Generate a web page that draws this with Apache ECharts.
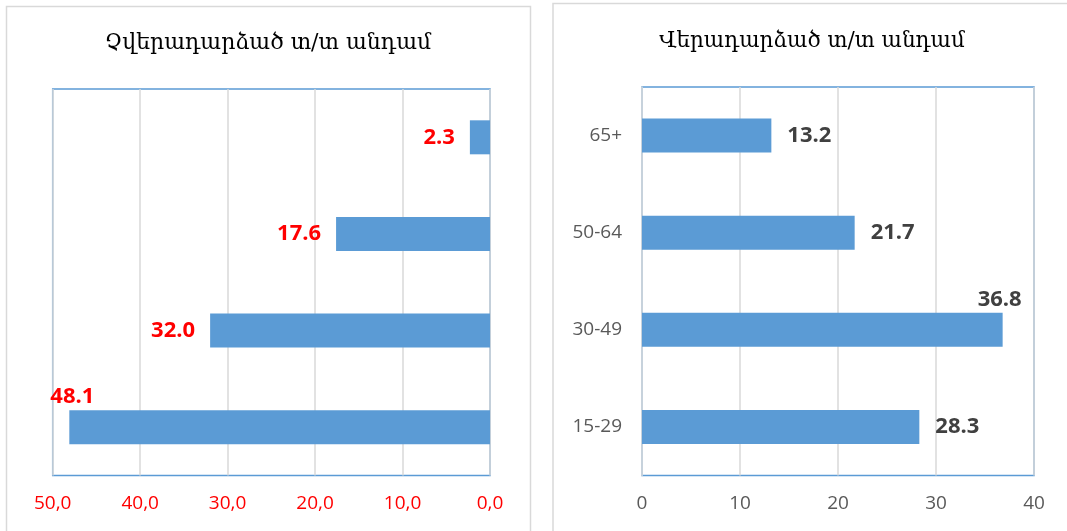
<!DOCTYPE html>
<html>
<head>
<meta charset="utf-8">
<script src="https://cdn.jsdelivr.net/npm/echarts@6/dist/echarts.min.js"></script>
<style>
html,body{margin:0;padding:0;background:#fff;}
#c{width:1067px;height:531px;}
</style>
</head>
<body>
<div id="c"></div>
<script>
// ---- data ----
var categories = ['15-29', '30-49', '50-64', '65+'];
var nonReturnedValues = [48.1, 32.0, 17.6, 2.3];   // Չվերադարձած
var returnedValues = [28.3, 36.8, 21.7, 13.2];     // Վերադարձած
var leftTitle = 'Չվերադարձած տ/տ անդամ';
var rightTitle = 'Վերադարձած տ/տ անդամ';

var BLUE = '#5B9BD5';
var numFont = "'Open Sans', 'Liberation Sans', sans-serif";
var titleFont = "'DejaVu Serif', 'DejaVu Sans', serif";

var chart = echarts.init(document.getElementById('c'), null, {renderer: 'canvas'});

function fmt1(v) { return Number(v).toFixed(1); }

var leftData = nonReturnedValues.map(function (v, i) {
  var d = {value: v};
  if (i === 0) {
    d.label = {position: 'insideLeft', offset: [-34, -30]};
  }
  return d;
});
var rightData = returnedValues.map(function (v, i) {
  var d = {value: v};
  if (i === 1) {
    d.label = {position: 'insideRight', offset: [35, -30]};
  }
  return d;
});

var option = {
  backgroundColor: '#ffffff',
  animation: false,
  graphic: [
    {type: 'rect', z: -10, shape: {x: 6.5, y: 6.5, width: 524, height: 540},
      style: {fill: '#fff', stroke: '#d9d9d9', lineWidth: 1.5}},
    {type: 'rect', z: -10, shape: {x: 553, y: 3.5, width: 540, height: 540},
      style: {fill: '#fff', stroke: '#d9d9d9', lineWidth: 1.5}},
    {type: 'text', z: 10, style: {text: leftTitle, x: 268, y: 43, textAlign: 'center',
      textVerticalAlign: 'middle', fill: '#000', font: "22px " + titleFont}},
    {type: 'text', z: 10, style: {text: rightTitle, x: 812, y: 41, textAlign: 'center',
      textVerticalAlign: 'middle', fill: '#000', font: "21.5px " + titleFont}}
  ],
  grid: [
    {left: 52.7, right: 577, top: 89, bottom: 55.5, show: true, borderColor: BLUE, borderWidth: 1.5, backgroundColor: '#fff'},
    {left: 642, right: 33, top: 87, bottom: 55.5, show: true, borderColor: BLUE, borderWidth: 1.5, backgroundColor: '#fff'}
  ],
  xAxis: [
    {type: 'value', gridIndex: 0, min: 0, max: 50, interval: 10, inverse: true,
      axisLine: {show: false}, axisTick: {show: false},
      splitLine: {show: true, lineStyle: {color: '#d9d9d9', width: 1.5}},
      axisLabel: {color: '#FF0000', fontSize: 19, fontFamily: numFont, margin: 19,
        formatter: function (v) { return fmt1(v).replace('.', ','); }}},
    {type: 'value', gridIndex: 1, min: 0, max: 40, interval: 10,
      axisLine: {show: false}, axisTick: {show: false},
      splitLine: {show: true, lineStyle: {color: '#d9d9d9', width: 1.5}},
      axisLabel: {color: '#595959', fontSize: 19, fontFamily: numFont, margin: 19}}
  ],
  yAxis: [
    {type: 'category', gridIndex: 0, data: categories,
      axisLine: {show: false}, axisTick: {show: false}, axisLabel: {show: false}},
    {type: 'category', gridIndex: 1, data: categories,
      axisLine: {show: true, lineStyle: {color: '#c9d3dd', width: 1.5}}, axisTick: {show: false},
      axisLabel: {color: '#595959', fontSize: 19, fontFamily: numFont, margin: 20}}
  ],
  series: [
    {type: 'bar', xAxisIndex: 0, yAxisIndex: 0, data: leftData, barWidth: 34,
      itemStyle: {color: BLUE},
      label: {show: true, position: 'left', distance: 15, color: '#FF0000', fontWeight: 'bold',
        fontSize: 22, fontFamily: numFont, formatter: function (p) { return fmt1(p.value); }}},
    {type: 'bar', xAxisIndex: 1, yAxisIndex: 1, data: rightData, barWidth: 34,
      itemStyle: {color: BLUE},
      label: {show: true, position: 'right', distance: 16, color: '#404040', fontWeight: 'bold',
        fontSize: 22, fontFamily: numFont, formatter: function (p) { return fmt1(p.value); }}}
  ]
};
chart.setOption(option);
</script>
</body>
</html>
